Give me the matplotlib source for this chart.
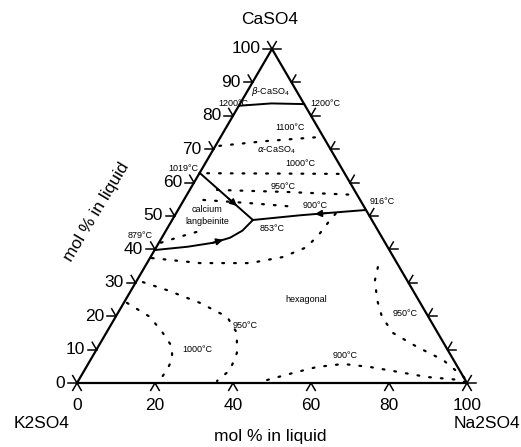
import numpy as np
from matplotlib import pyplot as plt

plt.rcParams['font.family'] = ['Liberation Sans', 'DejaVu Sans']

# compositions as (mol% Na2SO4, mol% CaSO4)
line_1200 = [(0, 83), (8, 83.7), (16.5, 83.5)]
iso_1100 = [(1, 71), (12, 72.4), (26, 73.7)]
iso_1000 = [(2, 62.8), (20, 62.7), (37.4, 62.6)]
iso_950_top = [(7, 57.8), (25, 57.2), (43.7, 56.3)]
iso_900_top = [(5, 54.8), (18, 53.8), (30, 52.7)]
iso_lang = [(0.5, 42), (5, 44), (10, 46)]
bound_1019 = [(0, 62.9), (20.7, 48.8)]
bound_916 = [(48.2, 51.8), (40, 51.0), (32, 50.2), (20.7, 48.8)]
bound_879 = [(0, 39.8), (8, 40.8), (14, 42.0), (17.5, 43.5), (19.6, 45.6), (20.7, 48.8)]
iso_hex = [(0.5, 37.4), (13.6, 35.9), (26.4, 35.9), (33.9, 37.7), (38.6, 40.7),
           (39.9, 44.9), (40.5, 48.8), (41.1, 51.2)]
iso_950_left = [(1.8, 30.2), (9.2, 27.8), (19.5, 24.0), (28.6, 19.8), (33.5, 15.0),
                (36.5, 9.0), (37.3, 3.9), (35.6, 0.6)]
iso_1000_left = [(0.8, 24.0), (8.8, 19.8), (14.5, 15.0), (19.0, 10.8), (20.9, 6.9),
                 (21.1, 3.9), (20.8, 0.9)]
iso_950_right = [(59.8, 34.7), (61.0, 30.8), (64.5, 24.9), (68.3, 19.8), (73.5, 15.0),
                 (81.8, 10.8), (90.4, 6.9), (98.7, 1.5), (100, 0)]
iso_900_bottom = [(48.3, 0.9), (53.9, 3.0), (59.1, 4.8), (65.4, 5.7), (72.7, 4.8),
                  (79.2, 3.6), (88.8, 1.8), (97.8, 0.9), (100, 0)]

ticks = list(range(0, 101, 10))
bottom_labels = [0, 20, 40, 60, 80, 100]
left_labels = list(range(0, 101, 10))

H = np.sqrt(3) / 2


def tern(pts):
    p = np.asarray(pts, dtype=float) / 100.0
    b, c = p[:, 0], p[:, 1]
    return b + c / 2, c * H


fig = plt.figure(figsize=(5.21, 4.47), dpi=100)
ax = fig.add_axes([0, 0, 1, 1])
ax.set_xlim(-77 / 390, (521 - 77) / 390)
ax.set_ylim((383 - 447) / 385.7, 383 / 385.7)
ax.axis('off')

# triangle
x, y = tern([(0, 0), (100, 0), (0, 100), (0, 0)])
ax.plot(x, y, 'k-', lw=1.6, solid_joinstyle='miter')

# ticks
L = 0.022
for t in ticks:
    # left edge (Na = 0)
    x0, y0 = tern([(0, t)])
    ax.plot([x0[0], x0[0] - L], [y0[0], y0[0]], 'k-', lw=1.1)
    ax.plot([x0[0], x0[0] - L * 0.5], [y0[0], y0[0] + L * H], 'k-', lw=1.1)
    # right edge (K = 0)
    x1, y1 = tern([(100 - t, t)])
    ax.plot([x1[0], x1[0] + L], [y1[0], y1[0]], 'k-', lw=1.1)
    ax.plot([x1[0], x1[0] + L * 0.5], [y1[0], y1[0] + L * H], 'k-', lw=1.1)
for t in bottom_labels:
    x2, y2 = tern([(t, 0)])
    ax.plot([x2[0], x2[0] - L * 0.5], [y2[0], y2[0] - L * H], 'k-', lw=1.1)
    ax.plot([x2[0], x2[0] + L * 0.5], [y2[0], y2[0] - L * H], 'k-', lw=1.1)

# tick labels
for t in left_labels:
    x0, y0 = tern([(0, t)])
    ax.text(x0[0] - 0.03, y0[0], str(t), ha='right', va='center', fontsize=12.5)
for t in bottom_labels:
    x2, y2 = tern([(t, 0)])
    ax.text(x2[0], y2[0] - 0.04, str(t), ha='center', va='top', fontsize=12.5)

# solid boundaries
for seg in [line_1200, bound_1019, bound_916, bound_879]:
    x, y = tern(seg)
    ax.plot(x, y, 'k-', lw=1.4)


# arrows on boundaries
def arrow(seg, frac):
    x, y = tern(seg)
    d = np.r_[0, np.cumsum(np.hypot(np.diff(x), np.diff(y)))]
    s = frac * d[-1]
    xa, ya = np.interp(s - 0.015, d, x), np.interp(s - 0.015, d, y)
    xb, yb = np.interp(s + 0.015, d, x), np.interp(s + 0.015, d, y)
    ax.annotate('', xy=(xb, yb), xytext=(xa, ya),
                arrowprops=dict(arrowstyle='-|>', color='k', lw=1.2,
                                mutation_scale=10, shrinkA=0, shrinkB=0))


arrow(bound_1019, 0.62)
arrow(bound_916, 0.4)
arrow(bound_879, 0.6)

# dotted isotherms
for seg in [iso_1100, iso_1000, iso_950_top, iso_900_top, iso_lang, iso_hex,
            iso_950_left, iso_1000_left, iso_950_right, iso_900_bottom]:
    x, y = tern(seg)
    ax.plot(x, y, color='k', lw=1.6, ls=(0, (0.8, 4.5)), dash_capstyle='round')

# corner labels and axis titles
fig.text(270 / 521, 1 - 20 / 447, 'CaSO4', ha='center', va='center', fontsize=12.5)
fig.text(42 / 521, 1 - 423 / 447, 'K2SO4', ha='center', va='center', fontsize=12.5)
fig.text(487 / 521, 1 - 423 / 447, 'Na2SO4', ha='center', va='center', fontsize=12.5)
fig.text(270 / 521, 1 - 437 / 447, 'mol % in liquid', ha='center', va='center', fontsize=12.5)
fig.text(97 / 521, 1 - 212 / 447, 'mol % in liquid', ha='center', va='center',
         fontsize=12.5, rotation=59)

# phase / temperature annotations
small = 6.5
notes = [
    (270, 92, r'$\beta$-CaSO$_4$'),
    (233, 103, '1200°C'),
    (325, 104, '1200°C'),
    (290, 128, '1100°C'),
    (277, 150, r'$\alpha$-CaSO$_4$'),
    (300, 164, '1000°C'),
    (183, 169, '1019°C'),
    (283, 186, '950°C'),
    (315, 205, '900°C'),
    (382, 202, '916°C'),
    (207, 210, 'calcium'),
    (207, 222, 'langbeinite'),
    (272, 228, '853°C'),
    (140, 236, '879°C'),
    (306, 299, 'hexagonal'),
    (245, 326, '950°C'),
    (197, 350, '1000°C'),
    (405, 314, '950°C'),
    (345, 355, '900°C'),
]
for px, py, s in notes:
    fig.text(px / 521, 1 - py / 447, s, ha='center', va='center', fontsize=small)

fig.savefig('out.png', dpi=100)
